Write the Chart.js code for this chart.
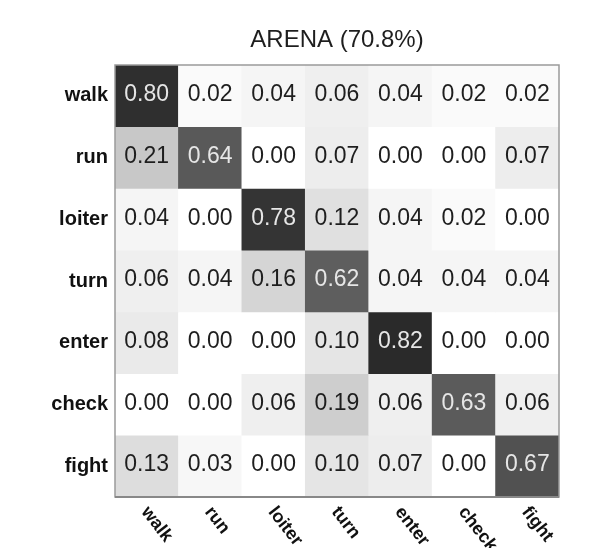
<!DOCTYPE html>
<html>
<head>
<meta charset="utf-8">
<script src="https://cdn.jsdelivr.net/npm/chart.js@4/dist/chart.umd.min.js"></script>
<style>
  html, body { margin: 0; padding: 0; background: #ffffff; }
  #wrap { width: 595px; height: 548px; }
</style>
</head>
<body>
<div id="wrap"><canvas id="cm" width="595" height="548"></canvas></div>
<script>
// Action classes (rows = true class, columns = predicted class)
const categories = ['walk', 'run', 'loiter', 'turn', 'enter', 'check', 'fight'];

// Confusion matrix rows
const walkRow   = [0.80, 0.02, 0.04, 0.06, 0.04, 0.02, 0.02];
const runRow    = [0.21, 0.64, 0.00, 0.07, 0.00, 0.00, 0.07];
const loiterRow = [0.04, 0.00, 0.78, 0.12, 0.04, 0.02, 0.00];
const turnRow   = [0.06, 0.04, 0.16, 0.62, 0.04, 0.04, 0.04];
const enterRow  = [0.08, 0.00, 0.00, 0.10, 0.82, 0.00, 0.00];
const checkRow  = [0.00, 0.00, 0.06, 0.19, 0.06, 0.63, 0.06];
const fightRow  = [0.13, 0.03, 0.00, 0.10, 0.07, 0.00, 0.67];

const rows = [walkRow, runRow, loiterRow, turnRow, enterRow, checkRow, fightRow];
const titleText = 'ARENA (70.8%)';

const FONT = '"Liberation Sans", Arial, Helvetica, sans-serif';

// Grayscale colour map: 0 -> white, 1 -> black
function grayFor(v) {
  const g = Math.max(0, Math.min(255, Math.round(255 - v * 260)));
  return `rgb(${g},${g},${g})`;
}

// One dataset per row; each cell is a floating bar spanning [row, row + 1]
const datasets = rows.map((vals, r) => ({
  label: categories[r],
  data: vals.map(() => [r, r + 1]),
  cellValues: vals,
  backgroundColor: vals.map(grayFor),
  borderWidth: 0,
  grouped: false,
  barPercentage: 1.0,
  categoryPercentage: 1.0
}));

// Cell values, frame, title and slanted column labels
const annotate = {
  id: 'annotate',
  afterDatasetsDraw(chart) {
    const ctx = chart.ctx;
    const area = chart.chartArea;
    ctx.save();

    // values inside the cells
    ctx.font = `23px ${FONT}`;
    ctx.textAlign = 'center';
    ctx.textBaseline = 'middle';
    chart.data.datasets.forEach((ds, i) => {
      const meta = chart.getDatasetMeta(i);
      meta.data.forEach((bar, j) => {
        const v = ds.cellValues[j];
        const cy = (bar.y + bar.base) / 2;
        ctx.fillStyle = v > 0.5 ? '#e6e6e6' : '#1e1e1e';
        ctx.fillText(v.toFixed(2), bar.x, cy - 1);
      });
    });

    // frame round the matrix
    ctx.strokeStyle = '#9a9a9a';
    ctx.lineWidth = 1.5;
    ctx.strokeRect(area.left, area.top, area.right - area.left, area.bottom - area.top);
    ctx.strokeStyle = '#888888';
    ctx.lineWidth = 2;
    ctx.beginPath();
    ctx.moveTo(area.left, area.bottom);
    ctx.lineTo(area.right, area.bottom);
    ctx.stroke();

    // title
    ctx.fillStyle = '#1e1e1e';
    ctx.font = `24px ${FONT}`;
    ctx.textAlign = 'center';
    ctx.textBaseline = 'alphabetic';
    ctx.fillText(titleText, (area.left + area.right) / 2, area.top - 18);

    // predicted-class labels, slanted downwards
    const xs = chart.scales.x;
    ctx.font = `bold 18px ${FONT}`;
    ctx.textAlign = 'left';
    ctx.textBaseline = 'middle';
    categories.forEach((c, j) => {
      const px = xs.getPixelForValue(j);
      ctx.save();
      ctx.translate(px - 2, area.bottom + 12);
      ctx.rotate(Math.PI * 52 / 180);
      ctx.fillStyle = '#111111';
      ctx.fillText(c, 0, 0);
      ctx.restore();
    });

    ctx.restore();
  }
};

new Chart(document.getElementById('cm'), {
  type: 'bar',
  data: { labels: categories, datasets },
  options: {
    responsive: false,
    animation: false,
    devicePixelRatio: 1,
    layout: { padding: { top: 65, bottom: 51, left: 0, right: 36 } },
    plugins: {
      legend: { display: false },
      tooltip: { enabled: false },
      title: { display: false }
    },
    scales: {
      x: {
        type: 'category',
        display: false,
        offset: true
      },
      y: {
        type: 'linear',
        min: 0,
        max: 7,
        reverse: true,
        grid: { display: false, drawTicks: false },
        border: { display: false },
        afterBuildTicks(scale) {
          scale.ticks = categories.map((c, i) => ({ value: i + 0.5 }));
        },
        afterFit(scale) {
          scale.width = 115;
        },
        ticks: {
          autoSkip: false,
          padding: 7,
          color: '#111111',
          font: { family: FONT, size: 20, weight: 'bold' },
          callback(value) {
            return categories[Math.floor(value)];
          }
        }
      }
    }
  },
  plugins: [annotate]
});
</script>
</body>
</html>
